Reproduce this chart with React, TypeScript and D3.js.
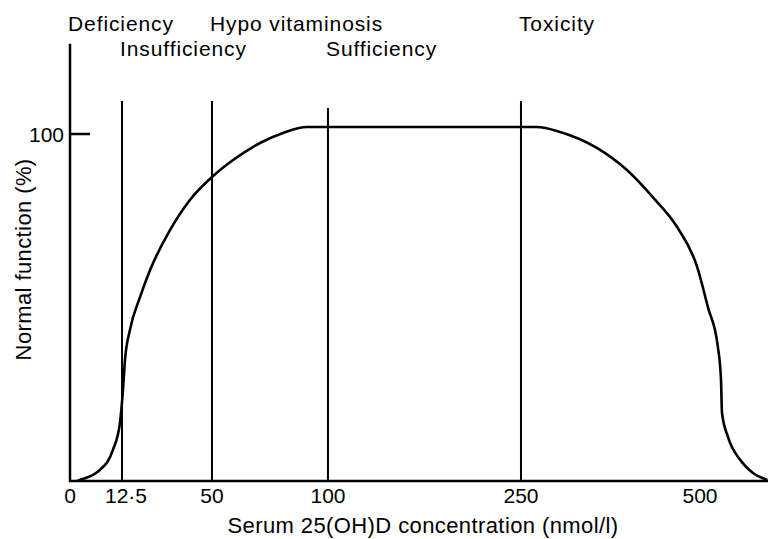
import { useEffect, useRef } from 'react'
import * as d3 from 'd3'

// band labels across the top, each starts at its lower boundary
const bandNames = ['Deficiency', 'Insufficiency', 'Hypo vitaminosis', 'Sufficiency', 'Toxicity']
const bandStarts = [0, 12.5, 50, 100, 250]
const bandRows = [0, 1, 0, 1, 0]

// x axis ticks (schematic, not linear)
const tickValues = [0, 12.5, 50, 100, 250, 500]
const tickLabels = ['0', '12·5', '50', '100', '250', '500']

// vertical boundary lines and their top (in % units)
const dividerValues = [12.5, 50, 100, 250]
const dividerTops = [109.5, 109.5, 107.5, 109.5]

// the curve: serum 25(OH)D (nmol/l) vs normal function (%)
const curveConc = [1.7, 2.4, 7.2, 10.3, 12.0, 12.9, 13.75, 15.8, 20, 24.2, 32.5, 40.8, 50, 59.1, 70.7, 80.6, 90.9, 150, 200, 272,
    304.5, 356, 398, 434, 468, 496, 511, 525, 529.3, 530.7, 539, 556, 574, 594]
const curvePct = [0, 0.3, 3.2, 8.9, 16.7, 26.2, 34.9, 43.5, 53, 60.8, 72.3, 81, 87.6, 92.5, 97.4, 100.3, 102, 102, 102, 102,
    100.6, 96, 89.6, 81.8, 73.2, 61.7, 50.1, 38.6, 29.1, 19.6, 12.7, 6.1, 2.3, 0.3]

const W = 768
const H = 539
const FONT = 'Liberation Sans, Arial, Helvetica, sans-serif'

export default function App() {
    const svgRef = useRef<SVGSVGElement>(null)

    useEffect(() => {
        if (!svgRef.current) return
        const svg = d3.select(svgRef.current)
        svg.selectAll('*').remove()

        const left = 70
        const right = W
        const plotW = right - left
        const bottom = 481

        // piecewise scale: tick spacing taken off the figure
        const fractions = [0, 0.0745, 0.2034, 0.3696, 0.6461, 0.9026]
        const x = d3.scaleLinear()
            .domain(tickValues)
            .range(fractions.map(f => left + f * plotW))

        const y = d3.scaleLinear()
            .domain([0, 100])
            .range([bottom, 134])

        const g = svg.append('g')

        // axes
        g.append('line')
            .attr('x1', left).attr('x2', left)
            .attr('y1', y(126)).attr('y2', bottom + 1)
            .attr('stroke', 'black').attr('stroke-width', 2.5)
        g.append('line')
            .attr('x1', left - 1).attr('x2', right)
            .attr('y1', bottom).attr('y2', bottom)
            .attr('stroke', 'black').attr('stroke-width', 2.5)

        // y tick at 100
        g.append('line')
            .attr('x1', left).attr('x2', left + 20)
            .attr('y1', y(100)).attr('y2', y(100))
            .attr('stroke', 'black').attr('stroke-width', 2.5)
        g.append('text')
            .attr('x', left - 6)
            .attr('y', y(100) + 8)
            .attr('text-anchor', 'end')
            .style('font-size', '21px')
            .style('font-family', FONT)
            .text('100')

        // x tick labels
        g.selectAll('.tick-label')
            .data(tickValues)
            .enter()
            .append('text')
            .attr('class', 'tick-label')
            .attr('x', d => x(d) + (d === 12.5 ? 4 : 0))
            .attr('y', 503)
            .attr('text-anchor', 'middle')
            .style('font-size', '21px')
            .style('font-family', FONT)
            .text((d, i) => tickLabels[i])

        // boundary lines
        g.selectAll('.divider')
            .data(dividerValues)
            .enter()
            .append('line')
            .attr('class', 'divider')
            .attr('x1', d => x(d)).attr('x2', d => x(d))
            .attr('y1', (d, i) => y(dividerTops[i]))
            .attr('y2', bottom)
            .attr('stroke', 'black')
            .attr('stroke-width', 2)

        // curve
        const pts: [number, number][] = curveConc.map((c, i) => [c, curvePct[i]])
        const line = d3.line<[number, number]>()
            .x(d => x(d[0]))
            .y(d => y(d[1]))
            .curve(d3.curveMonotoneX)
        g.append('path')
            .datum(pts)
            .attr('d', line)
            .attr('fill', 'none')
            .attr('stroke', 'black')
            .attr('stroke-width', 2.6)

        // band labels
        g.selectAll('.band-label')
            .data(bandNames)
            .enter()
            .append('text')
            .attr('class', 'band-label')
            .attr('x', (d, i) => x(bandStarts[i]) - 2)
            .attr('y', (d, i) => (bandRows[i] === 0 ? 31 : 56))
            .style('font-size', '21px')
            .style('letter-spacing', '0.9px')
            .style('font-family', FONT)
            .text(d => d)

        // axis titles
        g.append('text')
            .attr('x', 423)
            .attr('y', 533)
            .attr('text-anchor', 'middle')
            .style('font-size', '22px')
            .style('letter-spacing', '0.4px')
            .style('font-family', FONT)
            .text('Serum 25(OH)D concentration (nmol/l)')

        g.append('text')
            .attr('transform', `translate(31,${(y(126) + bottom) / 2 - 3}) rotate(-90)`)
            .attr('text-anchor', 'middle')
            .style('font-size', '22px')
            .style('letter-spacing', '0.4px')
            .style('font-family', FONT)
            .text('Normal function (%)')
    }, [])

    return (
        <svg ref={svgRef} width={W} height={H}
            style={{ position: 'absolute', left: 0, top: 0, background: 'white' }} />
    )
}
